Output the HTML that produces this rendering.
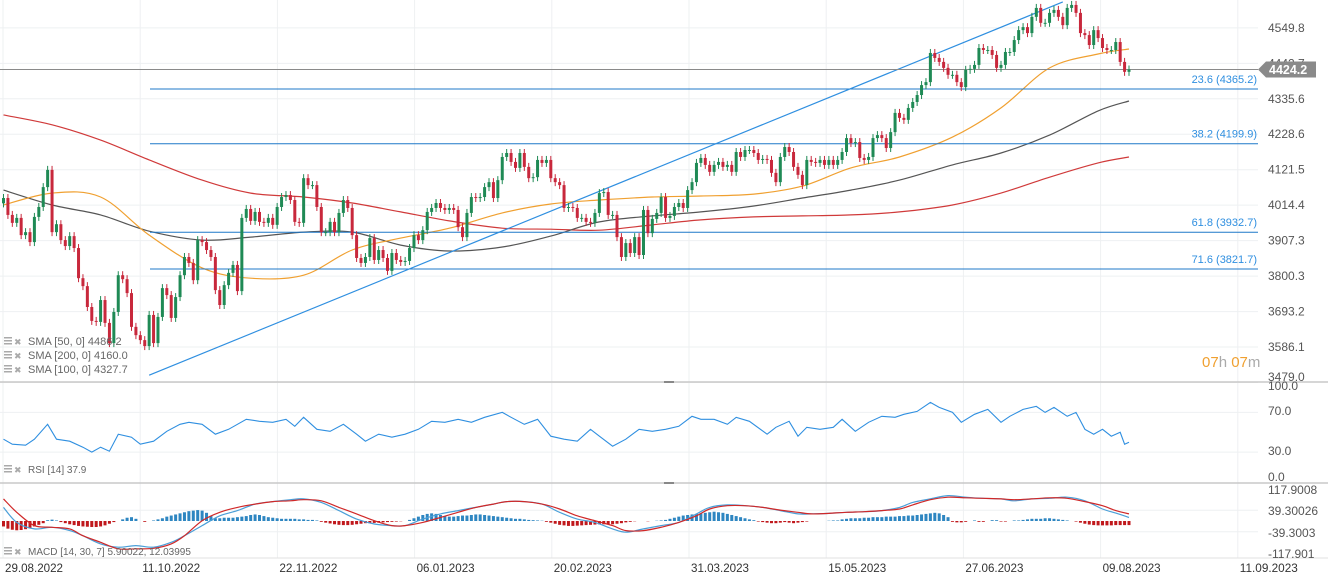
<!DOCTYPE html>
<html><head><meta charset="utf-8">
<style>
html,body{margin:0;padding:0;background:#fff;}
body{width:1328px;height:583px;overflow:hidden;font-family:"Liberation Sans",sans-serif;}
svg{display:block;}
</style></head>
<body>
<svg id="chart" width="1328" height="583" xmlns="http://www.w3.org/2000/svg" font-family="Liberation Sans, sans-serif"></svg>
<script>
const closes = [4036,3985,3961,3976,3924,3933,3903,3979,4009,4069,4121,3933,3957,3909,3891,3921,3885,3794,3770,3707,3665,3662,3728,3659,3598,3692,3803,3791,3749,3647,3622,3607,3589,3683,3598,3677,3764,3743,3674,3737,3803,3858,3840,3788,3909,3903,3879,3858,3758,3713,3773,3810,3834,3755,3976,4003,3967,3994,3964,3961,3976,3955,4009,4039,4045,4030,3964,3961,4096,4075,4075,4009,3933,3933,3964,3933,3991,4030,4006,3924,3855,3840,3858,3915,3849,3879,3855,3816,3870,3849,3843,3846,3885,3924,3909,3939,3994,4006,4021,4006,4000,
4006,4000,3948,3918,3991,4039,4036,4039,4069,4084,4036,4090,4160,4172,4145,4127,4172,4130,4096,4099,4151,4142,4151,4096,4084,4075,4006,4009,4006,3976,3976,3964,3961,3991,4051,4054,3985,3985,3918,3858,3900,3870,3918,3864,4000,3930,3973,3991,4039,3976,3982,4009,4021,4006,4060,4084,4142,4157,4136,4115,4136,4145,4130,4136,4115,4175,4160,4181,4181,4172,4151,4154,4151,4112,4084,4160,4190,4175,4130,4106,4075,4151,4145,4142,4151,4136,4151,4136,4151,4175,4217,4202,4205,4157,4151,4160,4217,4226,4217,4187,4235,4293,4278,
4272,4308,4326,4347,4377,4386,4474,4459,4447,4429,4408,4408,4386,4371,4423,4426,4438,4489,4483,4483,4468,4429,4438,4477,4477,4513,4543,4552,4534,4583,4610,4565,4565,4595,4604,4583,4558,4610,4619,4595,4534,4528,4498,4543,4519,4489,4483,4483,4507,4447,4417,4424];
const smaIdx = [0,11,22,33,45,56,68,79,90,101,113,124,135,147,158,170,181,192,203,215,226,237,248,255];
const sma50 = [4015,4051,4039,3924,3825,3794,3803,3879,3915,3945,3991,4018,4030,4039,4042,4048,4072,4127,4160,4220,4308,4429,4471,4486];
const sma200 = [4287,4257,4211,4151,4090,4051,4039,4021,3994,3967,3945,3942,3939,3955,3970,3979,3982,3985,3994,4015,4051,4099,4142,4160];
const sma100 = [4060,4015,3985,3936,3909,3918,3933,3933,3894,3876,3888,3921,3964,3982,3994,4012,4036,4060,4090,4136,4172,4226,4299,4329];
const fibLevels = [23.6,38.2,61.8,71.6];
const fibPrices = [4365.2,4199.9,3932.7,3821.7];
const trendIdx = [33,240];
const trendPrices = [3501,4628];
const lastPrice = 4424.2;
const priceTicks = [4549.8,4442.7,4335.6,4228.6,4121.5,4014.4,3907.3,3800.3,3693.2,3586.1,3479.0];
const dateLabels = ["29.08.2022","11.10.2022","22.11.2022","06.01.2023","20.02.2023","31.03.2023","15.05.2023","27.06.2023","09.08.2023","11.09.2023"];
const rsiIdx = [0,2,5,7,10,12,15,18,20,22,24,26,29,31,34,37,40,42,45,48,51,55,58,61,64,66,68,71,74,77,80,82,85,88,91,94,97,100,103,106,109,113,115,118,121,124,127,130,133,135,138,141,144,147,150,153,156,158,161,164,166,169,173,175,178,180,182,185,188,190,193,196,199,202,204,207,210,212,215,217,220,223,226,228,231,234,236,238,241,243,245,247,249,251,253,254,255];
const rsiVals = [43,38,37,43,58,43,41,35,30,35,31,48,45,38,41,51,58,60,58,48,53,63,61,60,63,56,65,53,51,58,48,41,48,45,48,53,61,60,63,60,65,70,65,58,63,46,43,41,53,46,36,43,53,51,53,56,66,63,63,58,65,61,48,55,61,46,55,53,55,63,51,60,66,65,68,71,80,75,70,60,68,73,60,66,73,76,70,75,66,70,53,48,53,46,50,38,40];
const rsiTicks = [100,70,30,0];
const macdIdx = [0,3,7,11,15,18,22,26,30,34,38,41,45,49,53,57,61,65,68,72,76,80,84,88,91,95,99,103,107,111,114,118,122,126,130,134,138,141,145,149,153,157,160,164,168,172,176,180,183,187,191,195,199,203,206,210,214,218,222,226,229,233,237,241,245,249,252,255];
const macdVals = [50,-5,-29,-23,-35,-54,-84,-96,-90,-96,-78,-54,-17,19,38,62,71,78,81,68,38,7,-11,-17,-17,7,26,38,50,62,71,71,62,32,7,-5,-29,-41,-29,-17,-5,26,50,59,56,50,38,26,26,28,32,34,38,50,68,81,93,87,83,81,74,81,83,87,74,44,29,13];
const signalVals = [81,32,-17,-23,-29,-54,-78,-102,-102,-100,-84,-54,1,32,50,62,71,74,78,74,50,26,1,-17,-17,-5,13,32,50,62,71,71,62,44,19,1,-17,-35,-35,-23,-5,19,44,56,56,50,40,32,26,28,32,34,38,44,59,78,87,85,83,81,78,81,85,83,71,56,38,26];
const histVals = [-20,-28,-32,-34,-33,-30,-26,-20,-14,-8,3,5,2,-4,-8,-12,-15,-18,-20,-21,-22,-22,-20,-16,-10,-4,0,6,12,14,8,0,-3,0,2,
6,10,16,20,24,28,32,36,38,40,38,30,18,10,10,12,12,12,14,16,18,22,24,22,18,14,12,10,8,8,8,8,6,6,4,4,2,
-3,-6,-9,-12,-14,-15,-15,-14,-12,-10,-8,-8,-7,-6,-5,-4,-3,-2,-1,0,
4,10,16,22,26,28,26,22,18,16,16,18,20,20,22,24,24,22,20,18,16,14,12,10,8,8,6,4,3,2,1,
-3,-6,-10,-14,-16,-18,-18,-17,-16,-15,-14,-13,-12,-12,-12,-12,-10,-8,-5,-3,-1,
0,0,-1,0,1,2,4,8,12,16,20,22,24,26,28,30,32,34,32,30,26,22,18,14,10,6,3,
-2,-4,-6,-8,-8,-6,-4,-6,-8,-6,-4,-2,0,0,0,0,1,2,2,
6,8,10,10,10,12,12,14,14,14,16,16,16,18,18,20,20,22,24,26,28,30,28,22,14,
-3,-5,-5,-3,0,2,-3,-3,0,3,3,-2,-2,0,2,2,4,6,8,8,8,10,10,8,6,4,2,0,-2,
-6,-10,-13,-15,-16,-16,-16,-16,-15,-15,-15,-15];
const macdTicks = ["117.9008","39.30026","-39.3003","-117.901"];
const macdTickVals = [117.9008,39.30026,-39.3003,-117.901];

const svg = document.getElementById('chart');
const NS = 'http://www.w3.org/2000/svg';
const N = closes.length;
const X0 = 3.5, XEND = 1129;
const step = (XEND - X0) / (N - 1);
const cx = i => X0 + i * step;
const py = p => 89 + (4365.2 - p) * 0.3312;
const ry = v => 482 - v * 0.995;
const my = v => 521 - v * 0.273;
function el(tag, attrs, parent) {
  const e = document.createElementNS(NS, tag);
  for (const k in attrs) e.setAttribute(k, attrs[k]);
  (parent || svg).appendChild(e);
  return e;
}
function group(name) {
  const g = el('g', {});
  
  
  return g;
}
function txt(s, attrs, parent) { const t = el('text', attrs, parent); t.textContent = s; return t; }
function smoothPath(pts) {
  let d = 'M' + pts[0][0].toFixed(1) + ',' + pts[0][1].toFixed(1);
  for (let i = 0; i < pts.length - 1; i++) {
    const p0 = pts[Math.max(0, i - 1)], p1 = pts[i], p2 = pts[i + 1], p3 = pts[Math.min(pts.length - 1, i + 2)];
    const c1x = p1[0] + (p2[0] - p0[0]) / 6, c1y = p1[1] + (p2[1] - p0[1]) / 6;
    const c2x = p2[0] - (p3[0] - p1[0]) / 6, c2y = p2[1] - (p3[1] - p1[1]) / 6;
    d += ' C' + c1x.toFixed(1) + ',' + c1y.toFixed(1) + ' ' + c2x.toFixed(1) + ',' + c2y.toFixed(1) + ' ' + p2[0].toFixed(1) + ',' + p2[1].toFixed(1);
  }
  return d;
}

// grid
const grid = group('grid');
for (let k = 0; k < 10; k++) {
  const gx = 3 + k * 137.2;
  el('line', {x1: gx, x2: gx, y1: 0, y2: 558, stroke: '#eef0f2', 'stroke-width': 1}, grid);
}
priceTicks.forEach(p => el('line', {x1: 0, x2: 1258, y1: py(p), y2: py(p), stroke: '#eef0f2'}, grid));
rsiTicks.slice(1, 3).forEach(v => el('line', {x1: 0, x2: 1258, y1: ry(v), y2: ry(v), stroke: '#eef0f2'}, grid));
macdTickVals.slice(1, 3).forEach(v => el('line', {x1: 0, x2: 1258, y1: my(v), y2: my(v), stroke: '#eef0f2'}, grid));

// pane separators
const sep = group('pane-separators');
[382, 483].forEach(y => {
  el('line', {x1: 0, x2: 1328, y1: y, y2: y, stroke: '#c8c8c8', 'stroke-width': 1.5}, sep);
  el('rect', {x: 664, y: y - 1, width: 10, height: 2, fill: '#888'}, sep);
});
el('line', {x1: 0, x2: 1328, y1: 558, y2: 558, stroke: '#e2e2e2'}, sep);

// SMA lines
function smaLine(vals, color, name) {
  const pts = smaIdx.map((i, k) => [cx(i), py(vals[k])]);
  const l = el('path', {d: smoothPath(pts), fill: 'none', stroke: color, 'stroke-width': 1.2});
  
  
}
smaLine(sma200, '#d03a3a', 'sma-200-line');
smaLine(sma100, '#555555', 'sma-100-line');
smaLine(sma50, '#f0a030', 'sma-50-line');

// fib lines
const fib = group('fibonacci-levels');
fibPrices.forEach((p, k) => {
  el('line', {x1: 150, x2: 1258, y1: py(p), y2: py(p), stroke: '#1f78c8', 'stroke-width': 1}, fib);
  const t = txt(fibLevels[k].toFixed(1) + ' (' + p.toFixed(1) + ')', {x: 1257, y: py(p) - 6, 'text-anchor': 'end', 'font-size': 11, fill: '#2f8fe0'}, fib);
  
  
});

// trend line
const tl = el('line', {x1: cx(trendIdx[0]), y1: py(trendPrices[0]), x2: cx(trendIdx[1]), y2: py(trendPrices[1]), stroke: '#2f8fe0', 'stroke-width': 1.2});



// last price line
const lp = el('line', {x1: 0, x2: 1258, y1: py(lastPrice), y2: py(lastPrice), stroke: '#8a8a8a', 'stroke-width': 1});



// candles
const cg = group('candlesticks');
for (let i = 0; i < N; i++) {
  const o = i === 0 ? 4020 : closes[i - 1];
  const c = closes[i];
  const up = c >= o;
  const col = up ? '#1f8a55' : '#c8283c';
  const top = py(Math.max(o, c)), bot = py(Math.min(o, c));
  const x = cx(i);
  el('line', {x1: x, x2: x, y1: top - 4, y2: bot + 4, stroke: col, 'stroke-width': 1}, cg);
  const r = el('rect', {x: x - 1.5, y: top, width: 3, height: Math.max(1, bot - top), fill: col}, cg);
  
  
}

// RSI
const rsiPts = rsiIdx.map((i, k) => cx(i).toFixed(1) + ',' + ry(rsiVals[k]).toFixed(1)).join(' ');
const rl = el('polyline', {points: rsiPts, fill: 'none', stroke: '#2f8fe0', 'stroke-width': 1.1});



// MACD histogram
const hg = group('macd-histogram');
histVals.forEach((v, i) => {
  if (v === 0) return;
  const y0 = my(0), y1 = my(v);
  const b = el('rect', {x: cx(i) - 1.5, y: Math.min(y0, y1), width: 3, height: Math.abs(y1 - y0), fill: v > 0 ? '#2e86c1' : '#c0181c'}, hg);
  
  
});
const ml = el('path', {d: smoothPath(macdIdx.map((i, k) => [cx(i), my(macdVals[k])])), fill: 'none', stroke: '#4a9fd8', 'stroke-width': 1.2});


const sl = el('path', {d: smoothPath(macdIdx.map((i, k) => [cx(i), my(signalVals[k])])), fill: 'none', stroke: '#d02828', 'stroke-width': 1.2});



// Y axis labels
const ya = group('price-axis');
priceTicks.forEach(p => {
  let y = py(p) + 4;
  if (y > 381) y = 381;
  const t = txt(p.toFixed(1), {x: 1268, y: y, 'font-size': 12, fill: '#555'}, ya);
  
  
});
// last price tag
const tag = group('last-price-tag');
const ty = py(lastPrice);
el('polygon', {points: `1258,${ty} 1266,${ty-8} 1316,${ty-8} 1316,${ty+8} 1266,${ty+8}`, fill: '#8a8a8a'}, tag);
txt(lastPrice.toFixed(1), {x: 1269, y: ty + 4.5, 'font-size': 12.5, 'font-weight': 'bold', fill: '#fff'}, tag);

// RSI axis
const ra = group('rsi-axis');
const rsiLabY = [390, 415, 455, 481];
rsiTicks.forEach((v, k) => {
  const t = txt(v.toFixed(1), {x: 1268, y: rsiLabY[k], 'font-size': 12, fill: '#555'}, ra);
  
  
});
// MACD axis
const ma = group('macd-axis');
const macdLabY = [494, 515, 537, 558];
macdTicks.forEach((s, k) => {
  const t = txt(s, {x: 1268, y: macdLabY[k], 'font-size': 12, fill: '#555'}, ma);
  
  
});
// date axis
const da = group('date-axis');
dateLabels.forEach((d, k) => {
  const t = txt(d, {x: 5 + k * 137.2, y: 572, 'font-size': 12, fill: '#333', textLength: 58, lengthAdjust: 'spacingAndGlyphs'}, da);
  
  
});

// legends
function legend(s, y, name, fs) {
  const g = group(name);
  el('rect', {x: 4, y: y - 8, width: 8, height: 1.5, fill: '#aaa'}, g);
  el('rect', {x: 4, y: y - 5, width: 8, height: 1.5, fill: '#aaa'}, g);
  el('rect', {x: 4, y: y - 2, width: 8, height: 1.5, fill: '#aaa'}, g);
  txt('✖', {x: 14, y: y, 'font-size': 9, fill: '#aaa'}, g);
  txt(s, {x: 28, y: y, 'font-size': fs, fill: '#666'}, g);
}
legend('SMA [50, 0] 4486.2', 345, 'legend-sma50', 11);
legend('SMA [200, 0] 4160.0', 359, 'legend-sma200', 11);
legend('SMA [100, 0] 4327.7', 373, 'legend-sma100', 11);
legend('RSI [14] 37.9', 473, 'legend-rsi', 10);
legend('MACD [14, 30, 7] 5.90022, 12.03995', 555, 'legend-macd', 10);

// countdown
const cd = el('text', {x: 1202, y: 367, 'font-size': 15}, svg);


cd.innerHTML = '<tspan fill="#f0a030">07</tspan><tspan fill="#aaa">h </tspan><tspan fill="#f0a030">07</tspan><tspan fill="#aaa">m</tspan>';
</script>
</body></html>
